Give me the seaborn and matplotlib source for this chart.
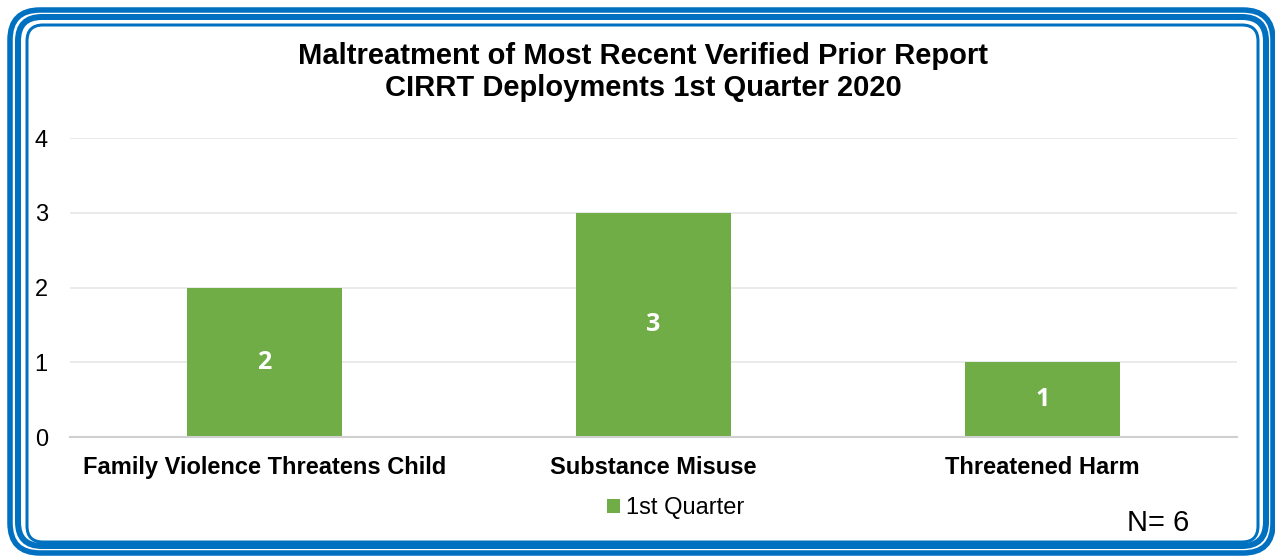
# Maltreatment of Most Recent Verified Prior Report - CIRRT Q1 2020
import matplotlib
matplotlib.use("Agg")
import matplotlib.pyplot as plt
from matplotlib.patches import FancyBboxPatch
from matplotlib.transforms import IdentityTransform
import pandas as pd
import seaborn as sns

# Data
categories = ["Family Violence Threatens Child", "Substance Misuse", "Threatened Harm"]
counts = [2, 3, 1]
series_name = "1st Quarter"
y_ticks = [0, 1, 2, 3, 4]
title_lines = ["Maltreatment of Most Recent Verified Prior Report",
               "CIRRT Deployments 1st Quarter 2020"]
n_total = 6

df = pd.DataFrame({"Category": categories, "Count": counts})

sns.set_style("white")
plt.rcParams["font.family"] = ["Liberation Sans", "DejaVu Sans"]
plt.rcParams["text.color"] = "black"
plt.rcParams["xtick.color"] = "black"
plt.rcParams["ytick.color"] = "black"

GREEN = "#70AD47"
BLUE = "#0070C0"
W, H = 1275, 559

fig = plt.figure(figsize=(W / 100, H / 100), dpi=100)
ax = fig.add_axes([70 / W, 1 - 437 / H, (1237 - 70) / W, (437 - 138) / H])

sns.barplot(
    data=df,
    x="Category",
    y="Count",
    color=GREEN,
    saturation=1,
    width=0.4,
    linewidth=0,
    label=series_name,
    ax=ax
)

ax.bar_label(ax.containers[0], label_type="center", color="white",
             fontsize=18, fontweight="bold", family=["Open Sans", "DejaVu Sans"])

ax.set_ylim(0, 4)
ax.set_xlim(-0.5, len(categories) - 0.5)
ax.set_yticks(y_ticks)
ax.set_xlabel("")
ax.set_ylabel("")
ax.grid(axis="y", color="#E6E6E6", linewidth=1.2)
ax.set_axisbelow(True)
for side in ["left", "right", "top"]:
    ax.spines[side].set_visible(False)
ax.spines["bottom"].set_color("#D0D0D0")
ax.spines["bottom"].set_linewidth(1.5)
ax.tick_params(axis="y", length=0, pad=16, labelsize=17, labelcolor="black")
ax.tick_params(axis="x", length=0, pad=14, labelsize=17, labelcolor="black")
for lbl in ax.get_xticklabels():
    lbl.set_fontweight("bold")

if ax.legend_:
    ax.legend_.remove()
fig.legend(loc="center", bbox_to_anchor=(676 / W, 1 - 508 / H), frameon=False,
           fontsize=17, handlelength=0.55, handleheight=0.55, handletextpad=0.25,
           labelcolor="black")

# title
fig.text(643 / W, 1 - 72 / H, "\n".join(title_lines), ha="center", va="center",
         fontsize=21, fontweight="bold", linespacing=1.18, color="black")

fig.text(1158 / W, 1 - 523 / H, f"N= {n_total}", ha="center", va="center",
         fontsize=21, color="black")

# rounded triple border
borders = [
    (10, 10, 1273, 553, 5.5, 30),
    (18, 17, 1266, 546, 6, 24),
    (27, 25, 1258, 542, 3, 16),
]
for x0, y0, x1, y1, lw, r in borders:
    patch = FancyBboxPatch((x0, H - y1), x1 - x0, y1 - y0,
                           boxstyle=f"round,pad=0,rounding_size={r}",
                           transform=IdentityTransform(), fill=False,
                           edgecolor=BLUE, linewidth=lw * 0.72)
    fig.add_artist(patch)

fig.savefig("out.png", dpi=100)
